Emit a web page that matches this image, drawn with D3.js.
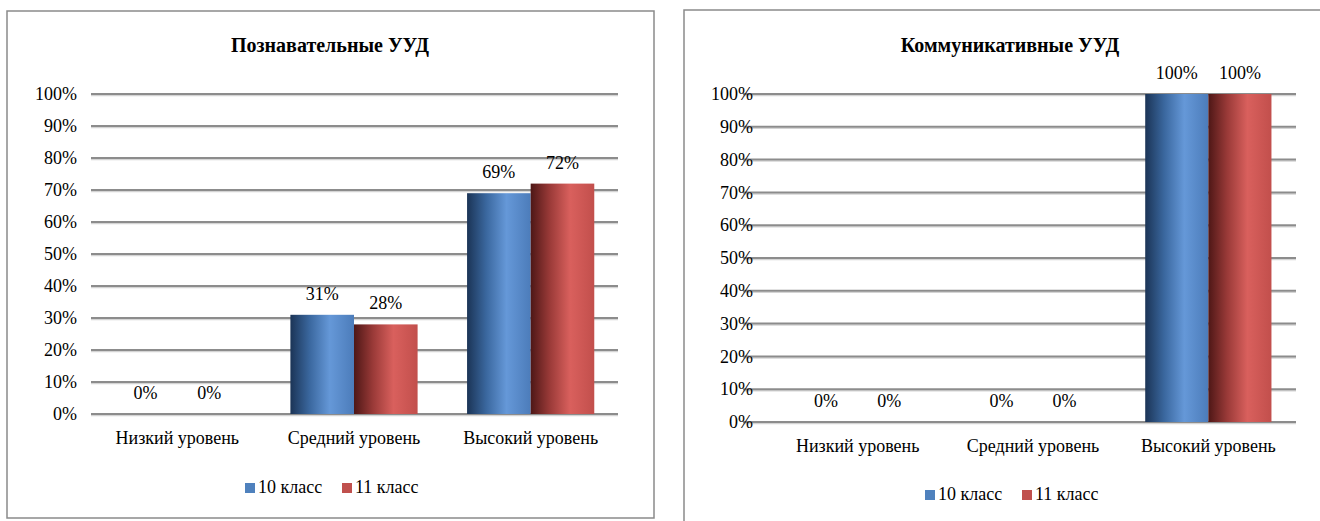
<!DOCTYPE html>
<html>
<head>
<meta charset="utf-8">
<script src="https://cdn.jsdelivr.net/npm/d3@7"></script>
</head>
<body style="margin:0">
<svg id="chart" width="1320" height="521"></svg>
<script>
//
// Data
//
const categories = ['Низкий уровень', 'Средний уровень', 'Высокий уровень'];
const seriesNames = ['10 класс', '11 класс'];
const cognitive10 = [0, 31, 69];
const cognitive11 = [0, 28, 72];
const communicative10 = [0, 0, 100];
const communicative11 = [0, 0, 100];
const yTicks = [0, 10, 20, 30, 40, 50, 60, 70, 80, 90, 100];

const FS = 18;

const svg = d3.select('#chart');
const defs = svg.append('defs');

// Bar gradients (dark left edge, light middle)
function gradient(id, stops) {
  const g = defs.append('linearGradient').attr('id', id)
      .attr('x1', '0%').attr('x2', '100%').attr('y1', '0%').attr('y2', '0%');
  stops.forEach(s => g.append('stop').attr('offset', s[0]).attr('stop-color', s[1]));
}
gradient('gBlue', [['0%', '#1b3456'], ['30%', '#3a679e'], ['62%', '#6598d8'], ['100%', '#4c7cba']]);
gradient('gRed', [['0%', '#4e1716'], ['30%', '#9a3a38'], ['62%', '#d9605d'], ['100%', '#c24f4c']]);

const fills = ['url(#gBlue)', 'url(#gRed)'];
const legendColors = ['#4f81bd', '#c0504d'];

function drawPanel(cfg) {
  const g = svg.append('g');

  // frame
  g.append('rect')
      .attr('x', cfg.box[0]).attr('y', cfg.box[1])
      .attr('width', cfg.box[2]).attr('height', cfg.box[3])
      .attr('fill', 'none').attr('stroke', '#8a8a8a').attr('stroke-width', 1.5);

  g.append('text')
      .attr('class', 'title')
      .attr('x', cfg.titleX).attr('y', cfg.titleY)
      .attr('text-anchor', 'middle')
      .text(cfg.title);

  const y = d3.scaleLinear().domain([0, 100]).range([cfg.y0, cfg.y1]);
  const x = d3.scaleBand().domain(categories).range(cfg.xRange).paddingInner(0.28).paddingOuter(0.14);
  const xs = d3.scaleBand().domain([0, 1]).range([0, x.bandwidth()]);

  // gridlines with a soft shadow
  const grid = g.append('g');
  grid.selectAll('line.sh').data(yTicks).join('line')
      .attr('x1', cfg.gridX[0]).attr('x2', cfg.gridX[1])
      .attr('y1', d => y(d) + 1.5).attr('y2', d => y(d) + 1.5)
      .attr('stroke', '#d4d4d4').attr('stroke-width', 1.5);
  grid.selectAll('line.gl').data(yTicks).join('line')
      .attr('x1', cfg.gridX[0]).attr('x2', cfg.gridX[1])
      .attr('y1', d => y(d)).attr('y2', d => y(d))
      .attr('stroke', '#8c8c8c').attr('stroke-width', 2);

  const yAxis = d3.axisLeft(y).tickValues(yTicks).tickSize(0).tickPadding(0)
      .tickFormat(d => d + '%');
  g.append('g').attr('transform', `translate(${cfg.yLabelX},0)`).call(yAxis)
      .call(a => a.select('.domain').remove());

  const xAxis = d3.axisBottom(x).tickSize(0).tickPadding(0);
  g.append('g').attr('transform', `translate(0,${cfg.y0 + 17})`).call(xAxis)
      .call(a => a.select('.domain').remove());

  const series = cfg.values.map((vals, si) => categories.map((c, ci) => ({c, si, v: vals[ci]})));

  series.forEach((s, si) => {
    g.append('g').selectAll('rect').data(s.filter(d => d.v > 0)).join('rect')
        .attr('x', d => x(d.c) + xs(si))
        .attr('width', xs.bandwidth())
        .attr('y', d => y(d.v))
        .attr('height', d => y(0) - y(d.v))
        .attr('fill', fills[si]);
    g.append('g').selectAll('text').data(s).join('text')
        .attr('x', d => x(d.c) + xs(si) + xs.bandwidth() / 2)
        .attr('y', d => y(d.v) - 15)
        .attr('text-anchor', 'middle')
        .text(d => d.v + '%');
  });

  // legend
  const leg = g.append('g').attr('transform', `translate(${cfg.legendX},${cfg.legendY})`);
  seriesNames.forEach((n, i) => {
    const off = i * 97;
    leg.append('rect').attr('x', off).attr('y', -10).attr('width', 10).attr('height', 10)
        .attr('fill', legendColors[i]);
    leg.append('text').attr('x', off + 13).attr('y', 0).text(n);
  });
}

drawPanel({
  title: 'Познавательные УУД',
  box: [7, 11, 647, 507],
  titleX: 330, titleY: 52,
  y0: 414, y1: 94,
  gridX: [91, 618],
  xRange: [89, 619],
  yLabelX: 77,
  values: [cognitive10, cognitive11],
  legendX: 245, legendY: 493
});

drawPanel({
  title: 'Коммуникативные УУД',
  box: [684, 10, 660, 530],
  titleX: 1010, titleY: 52,
  y0: 422, y1: 94,
  gridX: [743, 1296],
  xRange: [770, 1296],
  yLabelX: 753,
  values: [communicative10, communicative11],
  legendX: 925, legendY: 500
});

// serif font on every label
svg.selectAll('g').attr('font-family', null).attr('font-size', null);
svg.selectAll('text')
    .attr('font-family', 'Liberation Serif')
    .style('font-family', '"Liberation Serif"')
    .attr('font-size', FS)
    .attr('fill', '#000');
svg.selectAll('text.title')
    .attr('font-size', 20)
    .attr('font-weight', 'bold');
</script>
</body>
</html>
